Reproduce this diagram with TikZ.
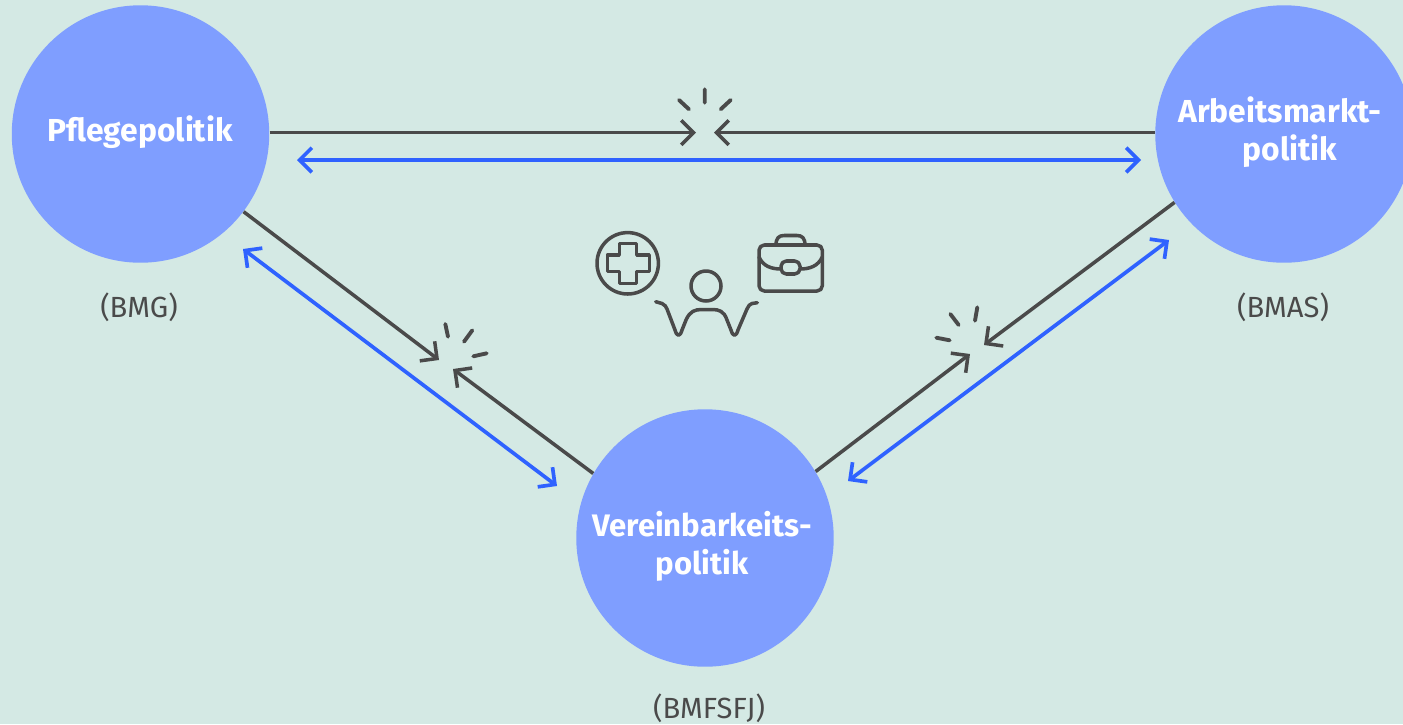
\documentclass[tikz,border=0pt]{standalone}
\usepackage{fontspec}
\setmainfont{Fira Sans}
\usetikzlibrary{arrows.meta,positioning}
\definecolor{bgmint}{HTML}{D4E9E4}
\definecolor{circblue}{HTML}{7F9EFF}
\definecolor{linkblue}{HTML}{2F62FF}
\definecolor{darkgray}{HTML}{4A4A4A}
\tikzset{
  policy/.style={circle,fill=circblue,minimum size=5.15cm,inner sep=0pt},
  policytext/.style={text=white,font=\fontsize{18.1}{21.6}\selectfont\bfseries,align=center},
  ministry/.style={text=darkgray,font=\fontsize{16.6}{18}\selectfont},
  conflict/.style={draw=darkgray,line width=2pt,-{Straight Barb[length=7pt,width=14pt,line width=2pt]}},
  exchange/.style={draw=linkblue,line width=2.1pt,{Straight Barb[length=7pt,width=14pt,line width=2.1pt]}-{Straight Barb[length=7pt,width=14pt,line width=2.1pt]}},
  spark/.style={draw=darkgray,line width=2.2pt,line cap=round},
  icon/.style={draw=darkgray,line width=2pt,line join=round,line cap=round}
}
\begin{document}
\begin{tikzpicture}[x=0.02cm,y=-0.02cm]
\fill [bgmint] (0,0) rectangle (1403,724);
\useasboundingbox (0,0) rectangle (1403,724);
\node [policy] (P) at (140.5,134) {};
\node [policy] (A) at (1284,134) {};
\node [policy] (V) at (705,538) {};
\node [policytext] (Pt) at (140,132.5) {Pflegepolitik};
\node [policytext] (At) at (1280,132) {Arbeitsmarkt-\\\hspace*{0.4cm}politik};
\node [policytext,font=\fontsize{17.7}{21.6}\selectfont\bfseries] (Vt) at (702,546) {Vereinbarkeits-\\politik};
\node [ministry] (Pm) at (139,307.5) {(BMG)};
\node [ministry] (Am) at (1283,307.5) {(BMAS)};
\node [ministry] (Vm) at (709,708.5) {(BMFSFJ)};
% free ends of the arrows
\coordinate (PAa) at (696,132.6);
\coordinate (APa) at (714,132.6);
\coordinate (PVa) at (439,360);
\coordinate (VPa) at (453,369);
\coordinate (AVa) at (984,345);
\coordinate (VAa) at (970,354);
\coordinate (PAb) at (297,160);
\coordinate (APb) at (1141,160);
\coordinate (PVb) at (243,249);
\coordinate (VPb) at (557,486);
\coordinate (AVb) at (1169,240);
\coordinate (VAb) at (848,481);
\draw [conflict] (P.east |- PAa)--(PAa);
\draw [conflict] (A.west |- APa)--(APa);
\draw [conflict] (P.-37.8)--(PVa);
\draw [conflict] (V.150.5)--(VPa);
\draw [conflict] (A.212)--(AVa);
\draw [conflict] (V.31.7)--(VAa);
\draw [exchange] (PAb)--(APb);
\draw [exchange] (PVb)--(VPb);
\draw [exchange] (AVb)--(VAb);
% sparks
\draw [spark] (704.7,89.3)--(704.7,102.7) (679,100)--(689,109.3) (730.7,100)--(720.7,109.3);
\draw [spark] (445.3,324)--(448,336.7) (472.3,330.3)--(464,341.7) (486.7,353.3)--(473.3,356.3);
\draw [spark] (977.3,307.3)--(975,320.7) (950.3,314)--(958.7,325) (936.3,337.7)--(949.7,340.3);
% cross
\draw [icon] (627.7,263.3) circle (30.7);
\draw [icon] (619.3,243.3)--(636.7,243.3)--(636.7,255)--(649.3,255)--(649.3,271.7)--(636.7,271.7)--(636.7,283.3)--(619.3,283.3)--(619.3,271.7)--(607.3,271.7)--(607.3,255)--(619.3,255)--cycle;
% person
\draw [icon] (706,286) circle (15);
\draw [icon] (655.7,301.7) -- (662,303.5) .. controls (665,304.5) and (666,307) .. (667,309) -- (675,330) .. controls (677,337) and (680,337) .. (682,330) -- (686,320) .. controls (690,311) and (695,309.5) .. (702,309.5) -- (712,309.5) .. controls (719,309.5) and (724,311) .. (727,320) -- (731,330) .. controls (733,337) and (736,337) .. (738,330) -- (747,309) .. controls (748,306) and (750,304) .. (752,303.5) -- (757.3,302.7);
% briefcase
\draw [icon,rounded corners=3pt] (759,245) rectangle (822.3,291);
\draw [icon] (776,245) .. controls (776,238) and (779,235.5) .. (784,235.5) -- (797,235.5) .. controls (802,235.5) and (805,238) .. (805,245);
\draw [icon] (759,257) .. controls (763,266) and (771,269) .. (781,269);
\draw [icon] (800,269) .. controls (810,269) and (818,266) .. (822.3,257);
\draw [icon,rounded corners=3pt] (781,261) rectangle (800,274);
\end{tikzpicture}
\end{document}
